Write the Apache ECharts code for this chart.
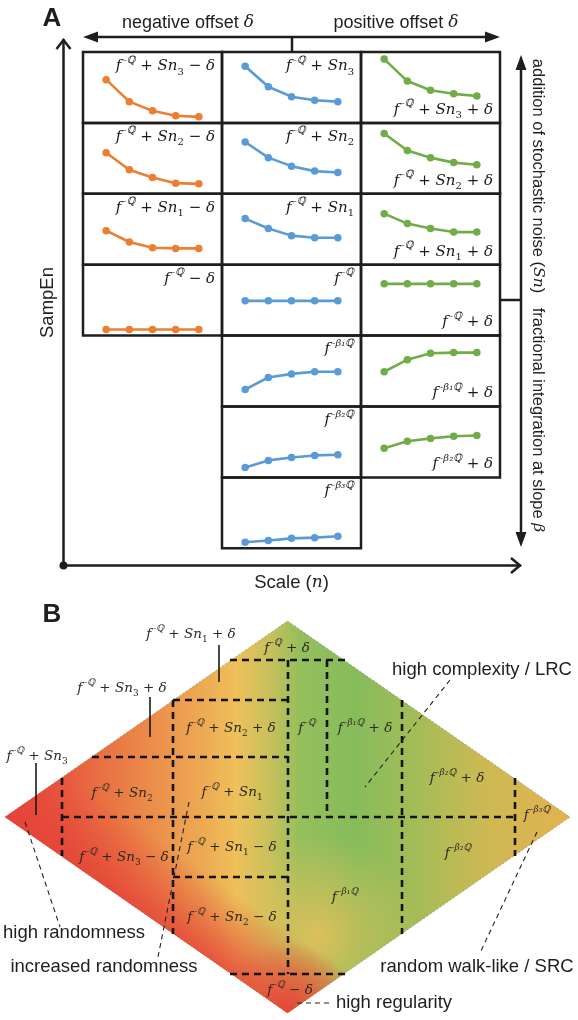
<!DOCTYPE html>
<html><head><meta charset="utf-8">
<script src="https://cdn.jsdelivr.net/npm/echarts@6/dist/echarts.min.js"></script>
<style>html,body{margin:0;padding:0;background:#fff}#c{width:578px;height:1020px}</style>
</head><body><div id="c"></div><script>
// ---------------- data ----------------
const scales = [1, 2, 3, 4, 5];
// Panel A: SampEn per scale (normalised to the height of each small panel)
const negSn3  = [0.61, 0.30, 0.17, 0.10, 0.085];
const negSn2  = [0.58, 0.34, 0.23, 0.15, 0.14];
const negSn1  = [0.48, 0.32, 0.24, 0.23, 0.23];
const negOnly = [0.085, 0.085, 0.085, 0.085, 0.085];
const baseSn3 = [0.80, 0.51, 0.37, 0.32, 0.30];
const baseSn2 = [0.73, 0.51, 0.39, 0.32, 0.30];
const baseSn1 = [0.65, 0.51, 0.41, 0.38, 0.38];
const baseOnly= [0.49, 0.49, 0.49, 0.49, 0.49];
const beta1   = [0.24, 0.41, 0.46, 0.49, 0.49];
const beta2   = [0.14, 0.24, 0.28, 0.31, 0.32];
const beta3   = [0.085, 0.11, 0.14, 0.15, 0.17];
const posSn3  = [0.90, 0.59, 0.46, 0.41, 0.38];
const posSn2  = [0.85, 0.61, 0.51, 0.44, 0.41];
const posSn1  = [0.72, 0.58, 0.51, 0.46, 0.46];
const posOnly = [0.73, 0.73, 0.73, 0.73, 0.73];
const posBeta1= [0.49, 0.66, 0.75, 0.76, 0.76];
const posBeta2= [0.41, 0.51, 0.55, 0.58, 0.59];

// Panel B: region boundaries (diamond space, px from diamond's bounding box)
const regionEdges = [
  [[225,39],[340,39]], [[283,39],[283,353]], [[322,39],[322,196]],
  [[168,79],[283,79]], [[168,79],[168,313]], [[87,136],[283,136]],
  [[57,157],[57,235]], [[57,196],[510,196]], [[510,157],[510,235]],
  [[397,79],[397,313]], [[168,256],[283,256]], [[225,353],[340,353]]
];
const solidLeaders = [ [[214,24],[214,61]], [[145,76],[145,116]], [[31,142],[31,194]] ];
const dashLeaders = [ [[445,59],[360,166]], [[20,201],[55,306]], [[184,181],[153,336]],
                      [[532,211],[475,332]], [[292,382],[328,382]] ];

// ---------------- text helpers ----------------
const OR = '#ED7D31', BL = '#5B9BD5', GR = '#70AD47';
const SUBD = {1:'₁', 2:'₂', 3:'₃'};
const FQ = '{i|f}{sp|\u2009-ℚ}';
const FB = k => '{i|f}{sp|\u2009-β' + SUBD[k] + 'ℚ}';
const SN = k => '{i|Sn}{sb|' + k + '}';
const P = '{o| + }', M = '{o| − }', D = '{i|δ}';

function richSet(fs, color) {
  const ss = Math.round(fs * 0.68);
  return {
    i:  {fontFamily:'DejaVu Serif', fontStyle:'italic', fontSize:fs, lineHeight:fs+7, fill:color},
    o:  {fontFamily:'DejaVu Serif', fontSize:fs, lineHeight:fs+7, fill:color},
    sp: {fontFamily:'DejaVu Serif', fontStyle:'italic', fontSize:ss, lineHeight:ss+2, verticalAlign:'top', fill:color},
    sb: {fontFamily:'DejaVu Serif', fontSize:ss, lineHeight:ss+2, verticalAlign:'bottom', fill:color}
  };
}
const richA = richSet(15, '#1a1a1a');
const richB = richSet(13.5, '#2a2a22');

// ---------------- panel A layout ----------------
const COLX = [83, 222, 361], CW = 139, ROW0 = 52, RH = 70.9;
const cells = [
  {c:0, r:0, v:negSn3,  col:OR, t:FQ+P+SN(3)+M+D, at:'top'},
  {c:0, r:1, v:negSn2,  col:OR, t:FQ+P+SN(2)+M+D, at:'top'},
  {c:0, r:2, v:negSn1,  col:OR, t:FQ+P+SN(1)+M+D, at:'top'},
  {c:0, r:3, v:negOnly, col:OR, t:FQ+M+D, at:'top'},
  {c:1, r:0, v:baseSn3, col:BL, t:FQ+P+SN(3), at:'top'},
  {c:1, r:1, v:baseSn2, col:BL, t:FQ+P+SN(2), at:'top'},
  {c:1, r:2, v:baseSn1, col:BL, t:FQ+P+SN(1), at:'top'},
  {c:1, r:3, v:baseOnly,col:BL, t:FQ, at:'top'},
  {c:1, r:4, v:beta1,   col:BL, t:FB(1), at:'top'},
  {c:1, r:5, v:beta2,   col:BL, t:FB(2), at:'top'},
  {c:1, r:6, v:beta3,   col:BL, t:FB(3), at:'top'},
  {c:2, r:0, v:posSn3,  col:GR, t:FQ+P+SN(3)+P+D, at:'bottom'},
  {c:2, r:1, v:posSn2,  col:GR, t:FQ+P+SN(2)+P+D, at:'bottom'},
  {c:2, r:2, v:posSn1,  col:GR, t:FQ+P+SN(1)+P+D, at:'bottom'},
  {c:2, r:3, v:posOnly, col:GR, t:FQ+P+D, at:'bottom'},
  {c:2, r:4, v:posBeta1,col:GR, t:FB(1)+P+D, at:'bottom'},
  {c:2, r:5, v:posBeta2,col:GR, t:FB(2)+P+D, at:'bottom'}
];

const grid = [], xAxis = [], yAxis = [], series = [], graphic = [];
const hid = {show:false};
cells.forEach((cl, k) => {
  const top = ROW0 + cl.r * RH;
  grid.push({left:COLX[cl.c], top:top, width:CW, height:RH, show:true,
             borderColor:'#1e1e1e', borderWidth:2.5, backgroundColor:'transparent'});
  xAxis.push({gridIndex:k, type:'value', min:0, max:6, show:false});
  yAxis.push({gridIndex:k, type:'value', min:0, max:1, show:false});
  series.push({type:'line', xAxisIndex:k, yAxisIndex:k, data:scales.map((s,j)=>[s, cl.v[j]]),
    symbol:'circle', symbolSize:7.5, showSymbol:true, silent:true, animation:false,
    lineStyle:{color:cl.col, width:2.6}, itemStyle:{color:cl.col}, z:3});
  const right = COLX[cl.c] + CW - 7;
  graphic.push({type:'text', x:right, y: cl.at === 'top' ? top + 3 : top + RH - 2, z:20,
    style:{text:cl.t, rich:richA, align:'right', verticalAlign:cl.at}});
});

// frame grid for panel A axes
const FI = cells.length;
grid.push({left:63, top:40, width:457, height:525});
const nameStyle = {fontSize:18.5, fontFamily:'Liberation Sans', color:'#222',
  rich:{m:{fontFamily:'DejaVu Serif', fontStyle:'italic', fontSize:17, color:'#222'}}};
xAxis.push({gridIndex:FI, type:'value', min:0, max:1, axisLine:{show:true, onZero:false, lineStyle:{color:'#1e1e1e', width:2.5}},
  axisTick:hid, axisLabel:hid, splitLine:hid, name:'Scale ({m|n})', nameLocation:'middle', nameGap:8, nameTextStyle:nameStyle});
yAxis.push({gridIndex:FI, type:'value', min:0, max:1, axisLine:{show:true, onZero:false, lineStyle:{color:'#1e1e1e', width:2.5}},
  axisTick:hid, axisLabel:hid, splitLine:hid, name:'SampEn', nameLocation:'middle', nameGap:6, nameTextStyle:nameStyle});

// panel B grid (diamond bounding box)
const BI = FI + 1, BX = 5, BY = 621, BW = 565, BH = 392;
grid.push({left:BX, top:BY, width:BW, height:BH});
xAxis.push({gridIndex:BI, type:'value', min:0, max:BW, show:false});
yAxis.push({gridIndex:BI, type:'value', min:0, max:BH, inverse:true, show:false});
function segSeries(seg, style) {
  return {type:'line', xAxisIndex:BI, yAxisIndex:BI, data:seg, symbol:'none', silent:true,
          animation:false, lineStyle:style, z:5};
}
regionEdges.forEach(s => series.push(segSeries(s, {color:'#141414', width:2.6, type:[7,5]})));
solidLeaders.forEach(s => series.push(segSeries(s, {color:'#1a1a1a', width:1.6})));
dashLeaders.forEach(s => series.push(segSeries(s, {color:'#222', width:1.1, type:[5,4]})));

// ---------------- decorations ----------------
const ST = {stroke:'#1e1e1e', lineWidth:2.5};
const sans = (fs) => ({fontFamily:'Liberation Sans', fontSize:fs, fill:'#1e1e1e'});
const mrich = (fs) => ({m:{fontFamily:'DejaVu Serif', fontStyle:'italic', fontSize:fs-1, fill:'#1e1e1e'}});
graphic.push(
  {type:'text', x:52, y:19, style:{text:'A', font:'bold 26px "Liberation Sans"', fill:'#1e1e1e', align:'center', verticalAlign:'middle'}},
  {type:'text', x:52, y:615, style:{text:'B', font:'bold 26px "Liberation Sans"', fill:'#1e1e1e', align:'center', verticalAlign:'middle'}},
  // top double arrow
  {type:'line', shape:{x1:92, y1:37, x2:491, y2:37}, style:ST},
  {type:'polygon', shape:{points:[[83,37],[98,31.5],[98,42.5]]}, style:{fill:'#1e1e1e'}},
  {type:'polygon', shape:{points:[[500,37],[485,31.5],[485,42.5]]}, style:{fill:'#1e1e1e'}},
  {type:'line', shape:{x1:292, y1:37, x2:292, y2:52}, style:ST},
  {type:'text', x:188, y:23, style:Object.assign(sans(18), {text:'negative offset {m|δ}', rich:mrich(18), align:'center', verticalAlign:'middle'})},
  {type:'text', x:396, y:23, style:Object.assign(sans(18), {text:'positive offset {m|δ}', rich:mrich(18), align:'center', verticalAlign:'middle'})},
  // right vertical double arrow
  {type:'line', shape:{x1:521, y1:64, x2:521, y2:538}, style:ST},
  {type:'polygon', shape:{points:[[521,55],[515.5,70],[526.5,70]]}, style:{fill:'#1e1e1e'}},
  {type:'polygon', shape:{points:[[521,547],[515.5,532],[526.5,532]]}, style:{fill:'#1e1e1e'}},
  {type:'line', shape:{x1:500, y1:300, x2:521, y2:300}, style:ST},
  {type:'text', x:538, y:176, rotation:-Math.PI/2, style:Object.assign(sans(16.5), {text:'addition of stochastic noise ({m|Sn})', rich:mrich(16.5), align:'center', verticalAlign:'middle'})},
  {type:'text', x:538, y:420, rotation:-Math.PI/2, style:Object.assign(sans(16.5), {text:'fractional integration at slope {m|β}', rich:mrich(16.5), align:'center', verticalAlign:'middle'})},
  // axis arrows
  {type:'polyline', shape:{points:[[56.5,49],[63.5,40],[70.5,49]]}, style:Object.assign({fill:null}, ST)},
  {type:'polyline', shape:{points:[[511,558],[520,565.5],[511,573]]}, style:Object.assign({fill:null}, ST)},
  {type:'circle', shape:{cx:63.5, cy:565.5, r:4}, style:{fill:'#1e1e1e'}}
);

// diamond
const dia = [[BX, BY+BH/2], [BX+BW/2, BY], [BX+BW, BY+BH/2], [BX+BW/2, BY+BH]];
const G = echarts.graphic;
graphic.push(
  {type:'polygon', z:0, shape:{points:dia}, style:{stroke:'rgba(90,90,60,0.5)', lineWidth:0.8, lineDash:[2,2],
    fill:new G.LinearGradient(0,0,1,0,[
      {offset:0, color:'#E5463A'}, {offset:0.1, color:'#E8583E'}, {offset:0.22, color:'#EA8046'},
      {offset:0.35, color:'#EDAA53'}, {offset:0.41, color:'#EEC05B'}, {offset:0.47, color:'#C6C15B'},
      {offset:0.52, color:'#96BF5C'}, {offset:0.62, color:'#86BC5B'}, {offset:0.72, color:'#A2BC58'},
      {offset:0.85, color:'#CDB953'}, {offset:1, color:'#E3B24F'}])}},
  {type:'polygon', z:0, shape:{points:dia}, style:{
    fill:new G.RadialGradient(318, 935, 100, [
      {offset:0, color:'rgba(238,192,90,0.8)'}, {offset:1, color:'rgba(238,192,90,0)'}], true)}},
  {type:'polygon', z:0, shape:{points:dia}, style:{
    fill:new G.LinearGradient(146, 915, 186, 858, [
      {offset:0, color:'rgba(228,68,56,0.85)'}, {offset:1, color:'rgba(228,68,56,0)'}], true)}},
  {type:'polygon', z:0, shape:{points:dia}, style:{
    fill:new G.RadialGradient(288, 1013, 70, [
      {offset:0, color:'rgba(228,68,56,0.95)'}, {offset:0.5, color:'rgba(230,90,60,0.6)'}, {offset:1, color:'rgba(230,90,60,0)'}], true)}}
);

// panel B labels
const bMath = [
  [191,634,FQ+P+SN(1)+P+D], [122,688,FQ+P+SN(3)+P+D], [37,756,FQ+P+SN(3)],
  [287,648,FQ+P+D], [231,728,FQ+P+SN(2)+P+D], [122,793,FQ+P+SN(2)], [232,792,FQ+P+SN(1)],
  [307,728,FQ], [365,728,FB(1)+P+D], [457,778,FB(2)+P+D], [537,815,FB(3)],
  [458,853,FB(2)], [345,897,FB(1)], [124,857,FQ+P+SN(3)+M+D], [232,847,FQ+P+SN(1)+M+D],
  [232,917,FQ+P+SN(2)+M+D], [290,990,FQ+M+D]
];
bMath.forEach(b => graphic.push({type:'text', x:b[0], y:b[1], z:20,
  style:{text:b[2], rich:richB, align:'center', verticalAlign:'middle'}}));
const bNotes = [
  [482,670,'high complexity / LRC'], [74,933,'high randomness'], [104,967,'increased randomness'],
  [477,967,'random walk-like / SRC'], [394,1003,'high regularity']
];
bNotes.forEach(b => graphic.push({type:'text', x:b[0], y:b[1], z:20,
  style:Object.assign(sans(18.5), {text:b[2], align:'center', verticalAlign:'middle'})}));

const chart = echarts.init(document.getElementById('c'), null, {renderer:'canvas'});
chart.setOption({animation:false, backgroundColor:'#fff', grid, xAxis, yAxis, series, graphic});
</script></body></html>
